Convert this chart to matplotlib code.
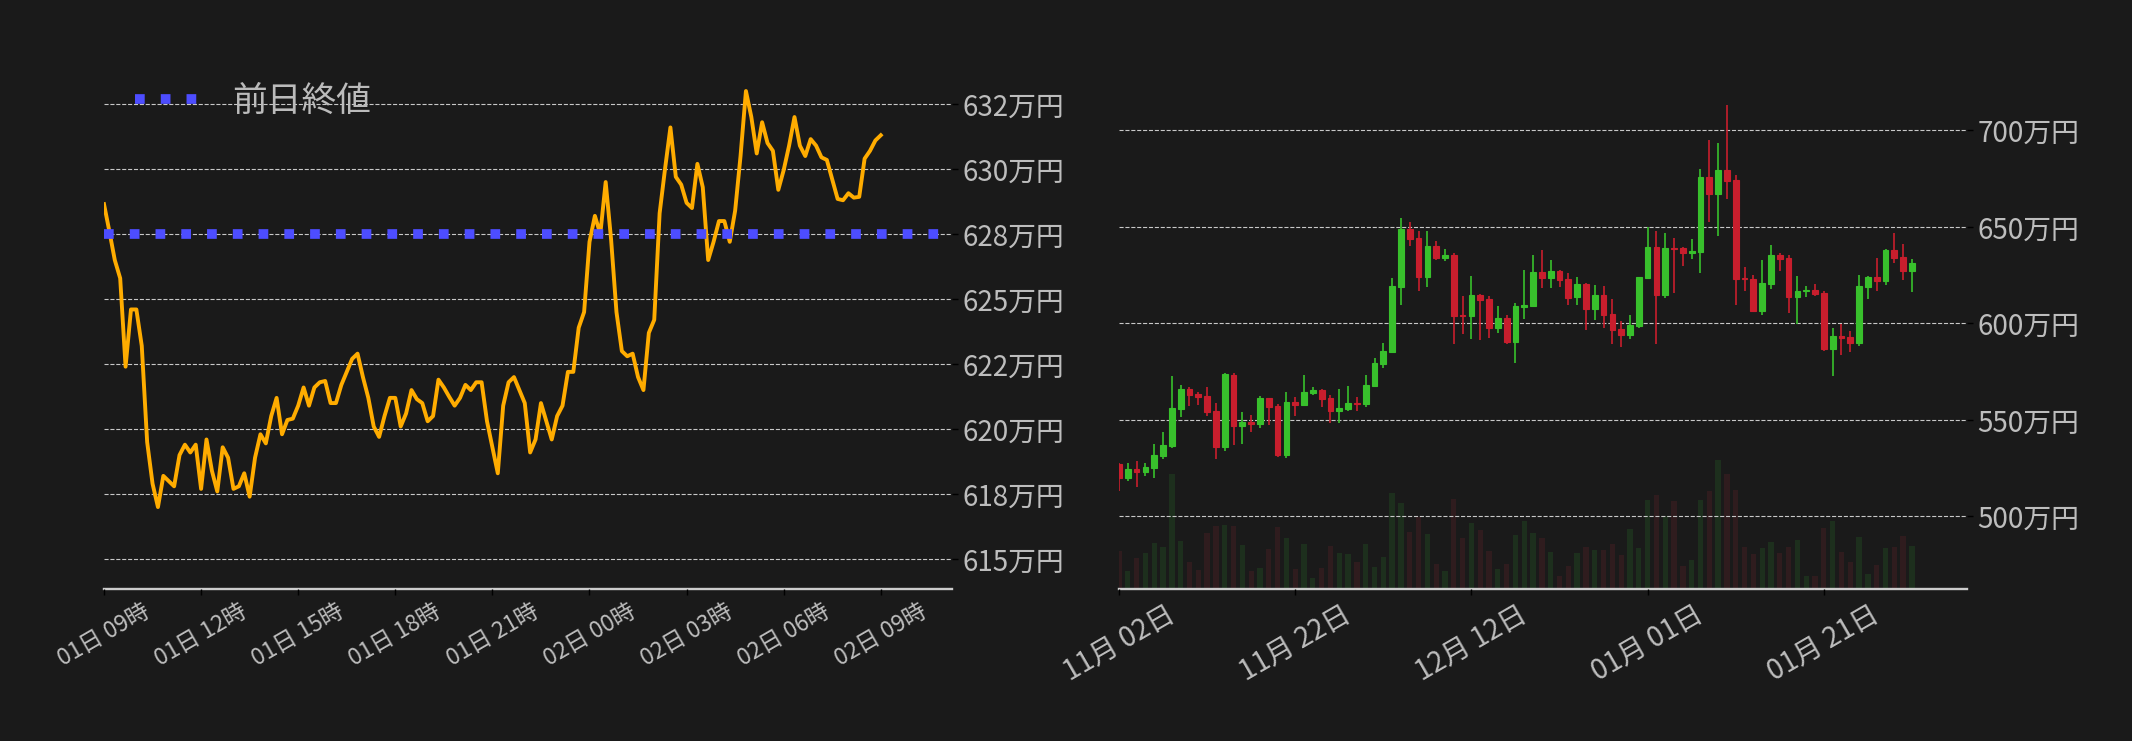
import matplotlib.pyplot as plt
import matplotlib.dates as mdates
from matplotlib.ticker import FixedLocator
import numpy as np
import pandas as pd

plt.rcParams['font.family'] = ['Noto Sans CJK JP', 'DejaVu Sans']

BG = '#1a1a1a'
TXT = '#bdbdbd'
GREEN = '#38c02c'
RED = '#c81e2d'

# --- 24時間チャート (10分ごと, 万円) ---
price_start = '2024-02-01 09:00'
price = [
    628.65, 627.6, 626.5, 625.8, 622.4, 624.6, 624.6, 623.2, 619.5, 617.9,
    617.0, 618.2, 618.0, 617.8, 619.0, 619.4, 619.1, 619.4, 617.7, 619.6,
    618.4, 617.6, 619.3, 618.9, 617.7, 617.8, 618.3, 617.4, 618.9, 619.8,
    619.45, 620.5, 621.2, 619.8, 620.35, 620.4, 620.9, 621.6, 620.9, 621.6,
    621.8, 621.85, 621.0, 621.0, 621.7, 622.2, 622.7, 622.9, 622.0, 621.2,
    620.1, 619.7, 620.5, 621.2, 621.2, 620.1, 620.6, 621.5, 621.15, 621.0,
    620.3, 620.5, 621.9, 621.6, 621.24, 620.9, 621.2, 621.7, 621.5, 621.8,
    621.8, 620.3, 619.3, 618.3, 620.9, 621.8, 622.0, 621.5, 621.0, 619.1,
    619.6, 621.0, 620.3, 619.6, 620.5, 620.9, 622.2, 622.2, 623.9, 624.5,
    627.2, 628.2, 627.5, 629.5, 627.3, 624.5, 623.0, 622.8, 622.9, 622.0,
    621.5, 623.7, 624.2, 628.3, 630.0, 631.6, 629.7, 629.4, 628.7, 628.5,
    630.2, 629.3, 626.5, 627.2, 628.0, 628.0, 627.2, 628.4, 630.5, 633.0,
    632.0, 630.6, 631.8, 631.0, 630.7, 629.2, 629.96, 630.9, 632.0, 630.9,
    630.5, 631.15, 630.9, 630.45, 630.35, 629.6, 628.85, 628.8, 629.07, 628.9,
    628.93, 630.4, 630.7, 631.1, 631.3,
]
prev_close = 627.5
price_yticks = [615, 617.5, 620, 622.5, 625, 627.5, 630, 632.5]
price_ylabels = ['615万円', '618万円', '620万円', '622万円', '625万円',
                 '628万円', '630万円', '632万円']

# --- 日足 (万円) ---
candle_start = '2023-11-02'
opens = [
    527.1, 520.0, 524.5, 523.1, 525.2, 531.4, 536.6, 555.8, 566.0, 563.4,
    562.4, 554.6, 536.1, 573.2, 546.9, 548.9, 548.0, 561.3, 557.2, 531.8,
    559.2, 557.7, 563.9, 565.5, 561.3, 554.6, 555.6, 558.7, 558.2, 567.5,
    578.9, 585.3, 619.0, 648.9, 644.2, 624.2, 640.1, 634.0, 635.4, 604.3,
    604.0, 614.7, 612.6, 597.7, 602.8, 590.5, 608.6, 609.1, 626.6, 623.6,
    627.1, 623.0, 613.8, 620.4, 607.6, 614.7, 604.8, 597.1, 594.1, 598.8,
    623.6, 639.5, 614.8, 638.9, 639.0, 636.6, 637.1, 675.8, 667.2, 679.4,
    674.2, 623.5, 623.0, 606.5, 620.5, 635.4, 633.8, 613.8, 616.7, 617.3,
    615.7, 586.9, 593.4, 592.9, 590.0, 619.0, 624.0, 622.1, 638.0, 634.4,
    627.3,
]
highs = [
    527.5, 527.5, 528.7, 527.5, 537.5, 543.7, 572.7, 568.0, 567.0, 564.3,
    566.8, 558.6, 574.4, 574.4, 554.0, 552.5, 562.4, 561.3, 558.2, 564.4,
    561.8, 573.4, 567.0, 566.1, 562.9, 566.0, 567.5, 561.8, 573.4, 582.0,
    589.8, 623.5, 654.6, 652.5, 647.8, 647.8, 642.6, 638.5, 636.4, 614.2,
    624.5, 615.2, 614.2, 609.0, 604.3, 610.5, 627.6, 635.4, 638.0, 632.8,
    627.6, 626.1, 624.0, 620.9, 619.9, 619.3, 612.6, 601.2, 604.3, 624.0,
    649.9, 647.8, 646.8, 644.2, 639.5, 643.7, 679.9, 695.0, 693.4, 713.1,
    676.8, 629.2, 625.0, 632.8, 640.6, 636.4, 635.4, 624.5, 619.3, 620.4,
    616.7, 597.6, 599.8, 596.2, 625.0, 624.5, 633.8, 638.5, 646.8, 641.1,
    633.3,
]
lows = [
    513.3, 518.5, 515.4, 520.8, 520.0, 529.9, 535.4, 551.6, 557.3, 557.8,
    552.1, 529.9, 534.0, 537.0, 537.5, 543.7, 545.8, 547.3, 530.8, 530.2,
    552.0, 557.7, 562.9, 556.6, 548.4, 548.4, 554.6, 554.6, 556.6, 567.5,
    576.8, 584.5, 609.5, 640.2, 616.9, 619.0, 633.0, 632.4, 589.4, 594.6,
    592.0, 591.5, 592.5, 595.1, 589.4, 579.6, 602.4, 609.1, 618.5, 618.5,
    619.0, 609.6, 609.6, 596.7, 601.9, 597.7, 589.4, 587.9, 592.0, 597.7,
    623.6, 589.4, 613.3, 615.9, 629.9, 633.5, 626.2, 652.6, 645.4, 664.6,
    609.6, 616.9, 606.0, 604.5, 617.9, 627.3, 605.5, 599.8, 613.8, 614.3,
    585.8, 572.9, 583.7, 585.3, 588.4, 612.8, 616.9, 620.0, 631.4, 622.6,
    616.4,
]
closes = [
    520.0, 524.4, 523.0, 525.6, 531.8, 537.0, 556.1, 566.0, 563.0, 562.0,
    554.2, 536.1, 573.7, 546.9, 548.9, 548.0, 561.3, 556.6, 531.8, 559.2,
    557.7, 564.4, 565.5, 560.8, 554.6, 556.1, 558.7, 558.4, 568.0, 579.4,
    585.7, 619.3, 648.9, 643.8, 624.2, 640.1, 634.0, 635.4, 604.0, 604.0,
    614.7, 612.2, 597.7, 602.8, 590.5, 609.0, 609.5, 626.6, 623.6, 627.1,
    622.6, 613.3, 620.4, 607.6, 614.7, 604.5, 596.7, 594.1, 599.0, 623.8,
    639.5, 614.8, 639.0, 638.5, 636.6, 637.3, 675.8, 667.2, 679.4, 673.9,
    623.1, 622.8, 606.5, 620.9, 635.4, 633.5, 613.8, 616.7, 617.1, 615.4,
    586.9, 593.4, 592.5, 590.0, 619.3, 624.0, 622.1, 638.0, 634.0, 627.3,
    631.3,
]
volumes = [
    380, 180, 310, 360, 460, 420, 1150, 480, 270, 190,
    560, 630, 640, 630, 440, 180, 210, 400, 620, 510,
    200, 450, 110, 210, 430, 360, 350, 270, 450, 220,
    320, 960, 860, 570, 720, 550, 250, 180, 900, 510,
    660, 590, 380, 200, 250, 540, 680, 560, 510, 370,
    130, 230, 360, 420, 390, 390, 450, 340, 600, 410,
    890, 940, 730, 880, 230, 290, 890, 980, 1290, 1150,
    990, 420, 350, 410, 470, 360, 420, 490, 130, 130,
    610, 680, 370, 270, 520, 150, 240, 410, 420, 530,
    430,
]
candle_yticks = [500, 550, 600, 650, 700]
candle_ylabels = ['500万円', '550万円', '600万円', '650万円', '700万円']


def style_axis(ax, xsize):
    ax.set_facecolor(BG)
    for side in ['top', 'left', 'right']:
        ax.spines[side].set_visible(False)
    ax.spines['bottom'].set_color('#cccccc')
    ax.spines['bottom'].set_linewidth(1.7)
    ax.yaxis.tick_right()
    ax.tick_params(axis='both', color='black', labelcolor=TXT, length=4, width=1)
    ax.tick_params(axis='y', labelsize=20)
    ax.tick_params(axis='x', labelsize=xsize, labelrotation=30)
    ax.yaxis.grid(True, linestyle='--', color='#c8c8c8', linewidth=0.8)
    ax.set_axisbelow(False)


fig = plt.figure(figsize=(21.32, 7.41), dpi=100, facecolor=BG)

# 左: 24時間の推移
ax1 = fig.add_axes([104 / 2132, 152 / 741, 848 / 2132, 544 / 741])
times = pd.date_range(price_start, periods=len(price), freq='10min')
ax1.plot(times, price, color='#ffac00', lw=2.8, zorder=3)
ax1.axhline(prev_close, color='#4d4dff', lw=7, linestyle=':', label='前日終値', zorder=4)
ax1.set_xlim(times[0], times[0] + pd.Timedelta(hours=26.2))
ax1.set_ylim(613.85, 634.77)
ax1.set_yticks(price_yticks, price_ylabels)
ax1.xaxis.set_major_locator(mdates.HourLocator(byhour=range(0, 24, 3)))
ax1.xaxis.set_major_formatter(mdates.DateFormatter('%d日 %H時'))
style_axis(ax1, 16.5)
ax1.legend(loc='upper left', bbox_to_anchor=(0, 0.986), frameon=False,
           fontsize=25, labelcolor='#bbbbbb')

# 右: 日足ローソク + 出来高
rect_r = [1119 / 2132, 152 / 741, 848 / 2132, 544 / 741]
ax_v = fig.add_axes(rect_r)
ax2 = fig.add_axes(rect_r)
ax2.patch.set_visible(False)

dates = pd.date_range(candle_start, periods=len(opens), freq='D')
x = mdates.date2num(dates.to_pydatetime())
o = np.array(opens)
h = np.array(highs)
l = np.array(lows)
c = np.array(closes)
up = c >= o
colors = np.where(up, GREEN, RED)

ax_v.set_facecolor(BG)
ax_v.bar(x, volumes, width=0.6, color=np.where(up, '#1d2f1d', '#2f1c1e'))
ax_v.set_ylim(0, 5440)
ax_v.axis('off')

ax2.vlines(x, l, h, colors=colors, lw=1.2, zorder=3)
ax2.bar(x, np.maximum(np.abs(c - o), 0.5), bottom=np.minimum(o, c), width=0.65,
        color=colors, edgecolor=colors, lw=0.8, zorder=4)

xmax = x[-1] + 6.25
ax_v.set_xlim(x[0], xmax)
ax2.set_xlim(x[0], xmax)
ax2.set_ylim(462.3, 744.2)
ax2.set_yticks(candle_yticks, candle_ylabels)
ax2.xaxis.set_major_locator(FixedLocator(x[::20]))
ax2.xaxis.set_major_formatter(mdates.DateFormatter('%m月 %d日'))
style_axis(ax2, 20)

fig.savefig('out.png', dpi=100, facecolor=BG)
